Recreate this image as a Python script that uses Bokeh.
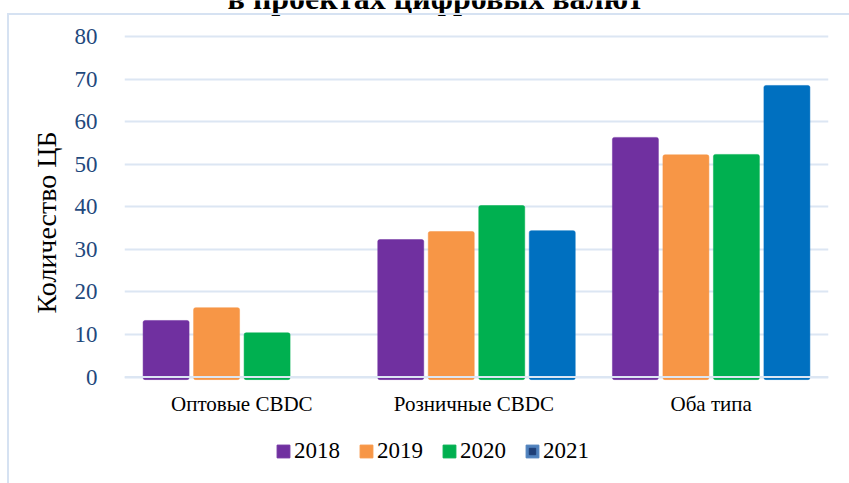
from bokeh.plotting import figure
from bokeh.layouts import column
from bokeh.models import (ColumnDataSource, FactorRange, Range1d, Legend, LegendItem, Label,
                          FixedTicker, Title, Span, InlineStyleSheet)
from bokeh.transform import dodge
from bokeh.embed import file_html
from bokeh.resources import INLINE

# ---- data ----
categories = ["Оптовые СВDC", "Розничные  СВDC", "Оба типа"]
years = ["2018", "2019", "2020", "2021"]
v2018 = [13.3, 32.3, 56.3]
v2019 = [16.3, 34.2, 52.2]
v2020 = [10.4, 40.3, 52.3]
v2021 = [float("nan"), 34.4, 68.5]
y_ticks = [0, 10, 20, 30, 40, 50, 60, 70, 80]
title_text = "в проектах цифровых валют"
y_title = "Количество ЦБ"

# ---- style ----
colors = ["#7030A0", "#F79646", "#00B050", "#0070C0"]
legend_2021_fill = "#4F81BD"
legend_2021_inner = "#1F3F77"
grid_color = "#DCE6F3"
border_color = "#D6E2F2"
FONT = "Liberation Serif"
offsets = [-0.3228, -0.1076, 0.1076, 0.3228]
BAR_W = 0.196
BAR_BASE = -0.6

src = ColumnDataSource(dict(cat=categories, y2018=v2018, y2019=v2019, y2020=v2020, y2021=v2021))

p = figure(width=849, height=430, x_range=FactorRange(factors=categories, range_padding=0),
           y_range=Range1d(-0.8, 88.45), output_backend="svg", toolbar_location=None,
           min_border_left=124, min_border_right=21, min_border_top=0, min_border_bottom=50)
p.title.text = ""
p.outline_line_color = None
p.background_fill_color = "white"
p.border_fill_color = "white"

renderers = []
for yr, col, off in zip(years, colors, offsets):
    r = p.vbar(x=dodge("cat", off, range=p.x_range), top="y" + yr, bottom=BAR_BASE, width=BAR_W,
               source=src, fill_color=col, line_color=col, line_width=0.5, border_radius=2)
    renderers.append(r)

p.add_layout(Span(location=0, dimension="width", line_color=grid_color, line_width=2, level="overlay"))

# axes
p.xgrid.grid_line_color = None
p.ygrid.grid_line_color = grid_color
p.ygrid.grid_line_width = 2
p.yaxis.ticker = FixedTicker(ticks=y_ticks)
p.yaxis.axis_line_color = None
p.yaxis.major_tick_line_color = None
p.yaxis.minor_tick_line_color = None
p.yaxis.major_label_text_font = FONT
p.yaxis.major_label_text_font_size = "23px"
p.yaxis.major_label_text_color = "#1F497D"
p.yaxis.major_label_standoff = 21

p.xaxis.axis_line_color = None
p.xaxis.major_tick_line_color = None
p.xaxis.minor_tick_line_color = None
p.xaxis.major_label_text_font = FONT
p.xaxis.major_label_text_font_size = "21px"
p.xaxis.major_label_text_color = "black"
p.xaxis.major_label_standoff = 5

# y title
p.add_layout(Title(text=y_title, align="left", offset=67, vertical_align="middle", standoff=18,
                   text_font=FONT, text_font_size="28px", text_font_style="normal",
                   text_color="black"), "left")

# chart title (cut off at the top edge, as in the source image)
p.add_layout(Label(x=311, y=383, x_units="screen", y_units="screen", text=title_text,
                   text_font=FONT, text_font_size="32px", text_font_style="bold",
                   text_align="center", text_baseline="alphabetic", text_color="black"))

# legend strip
lf = figure(width=849, height=53, x_range=Range1d(0, 1), y_range=Range1d(0, 1),
            x_axis_type=None, y_axis_type=None, output_backend="svg", toolbar_location=None,
            min_border=0)
lf.title.text = ""
lf.outline_line_color = None
lf.grid.grid_line_color = None
nan = float("nan")
dummy = ColumnDataSource(dict(x=[nan], y=[nan]))
leg_r = []
for col in colors[:3]:
    leg_r.append([lf.vbar(x="x", top="y", width=0.1, source=dummy, fill_color=col, line_color=col)])
r21a = lf.vbar(x="x", top="y", width=0.1, source=dummy, fill_color=legend_2021_fill,
               line_color=legend_2021_fill)
r21b = lf.scatter(x="x", y="y", source=dummy, marker="square", fill_color=legend_2021_inner,
                  line_color=legend_2021_inner)
leg_r.append([r21a, r21b])
items = [LegendItem(label=years[i], renderers=leg_r[i]) for i in range(4)]
leg = Legend(items=items, orientation="horizontal", location=(151, 19), padding=0, margin=0,
             spacing=18, glyph_width=16, glyph_height=16, label_standoff=3,
             label_text_font=FONT, label_text_font_size="23px", label_text_color="black",
             border_line_color=None, background_fill_alpha=0, label_height=24)
lf.add_layout(leg, "center")

p.stylesheets = [InlineStyleSheet(css=(
    ":host::after{content:'';position:absolute;left:7px;top:13px;right:0;bottom:0;"
    "border-left:2px solid " + border_color + ";border-top:2px solid " + border_color +
    ";pointer-events:none;}"))]
lf.stylesheets = [InlineStyleSheet(css=(
    ":host::after{content:'';position:absolute;left:7px;top:0;right:0;bottom:0;"
    "border-left:2px solid " + border_color + ";pointer-events:none;}"))]

root = column(p, lf, spacing=0)
open("out.html", "w").write(file_html(root, INLINE))
